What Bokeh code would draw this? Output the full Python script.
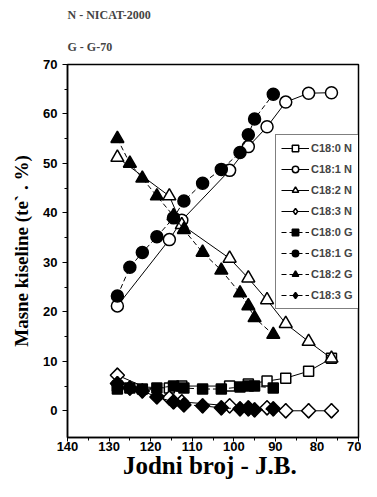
from bokeh.plotting import figure
from bokeh.models import Range1d, FixedTicker, Title, Legend, LegendItem
from bokeh.embed import file_html
from bokeh.resources import INLINE
import math

# N series (NICAT-2000)
xN = [128, 115.5, 112.5, 101, 96.5, 92, 87.5, 82, 76.5]
c180_N = [5.0, 4.6, 5.0, 5.0, 5.4, 6.0, 6.6, 8.0, 10.6]
c181_N = [21.2, 34.6, 38.5, 48.6, 53.4, 57.4, 62.4, 64.2, 64.3]
c182_N = [51.2, 43.4, 37.6, 30.8, 26.8, 22.4, 17.6, 14.0, 10.6]
c183_N = [7.2, 2.6, 1.8, 1.0, 0.6, 0.6, 0.0, 0.0, 0.0]

# G series (G-70)
xG = [128, 125, 122, 118.5, 114.5, 112, 107.5, 103, 98.5, 96.5, 95, 90.5]
c180_G = [4.4, 4.6, 4.4, 4.6, 5.0, 4.6, 4.4, 4.4, 4.8, 5.0, 5.0, 4.6]
c181_G = [23.2, 29.0, 32.0, 35.2, 39.0, 42.4, 46.0, 48.8, 52.2, 55.8, 59.0, 64.0]
c182_G = [55.0, 50.0, 47.0, 43.4, 39.4, 36.6, 32.0, 28.4, 23.8, 21.2, 18.8, 15.4]
c183_G = [5.5, 4.6, 4.0, 2.8, 1.8, 1.2, 1.0, 0.6, 0.4, 0.4, 0.2, 0.4]

series = [
    ("C18:0 N", xN, c180_N, "square", False),
    ("C18:1 N", xN, c181_N, "circle", False),
    ("C18:2 N", xN, c182_N, "triangle", False),
    ("C18:3 N", xN, c183_N, "diamond", False),
    ("C18:0 G", xG, c180_G, "square", True),
    ("C18:1 G", xG, c181_G, "circle", True),
    ("C18:2 G", xG, c182_G, "triangle", True),
    ("C18:3 G", xG, c183_G, "diamond", True),
]

x_ticks = [140, 130, 120, 110, 100, 90, 80, 70]
y_ticks = [0, 10, 20, 30, 40, 50, 60, 70]

p = figure(width=361, height=481, output_backend="svg", toolbar_location=None,
           x_range=Range1d(140, 70), y_range=Range1d(-5.4, 70),
           min_border_left=67, min_border_right=3, min_border_top=10, min_border_bottom=40)

p.outline_line_color = "black"
p.outline_line_width = 1.5
p.xgrid.visible = False
p.ygrid.visible = False
p.background_fill_color = "white"
p.border_fill_color = "white"

items = []
for name, xs, ys, marker, filled in series:
    dash = "5 3" if filled else "solid"
    ln = p.line(xs, ys, line_color="black", line_width=1, line_dash=dash)
    fill = "black" if filled else "white"
    if marker == "diamond":
        # narrow diamond used for the legend key; hidden under the wide diamonds
        key = p.scatter(xs, ys, marker="diamond", size=14,
                        line_color="black", line_width=1.5, fill_color=fill)
        p.scatter(xs, ys, marker="square", size=10, angle=math.pi / 4,
                  line_color="black", line_width=1.5, fill_color=fill)
        items.append(LegendItem(label=name, renderers=[ln, key]))
    else:
        size = {"square": 10, "circle": 12, "triangle": 13}[marker]
        sc = p.scatter(xs, ys, marker=marker, size=size, line_color="black",
                       line_width=1.5, fill_color=fill)
        items.append(LegendItem(label=name, renderers=[ln, sc]))

legend = Legend(items=items, location=(208, 128))
legend.label_text_font = "Liberation Sans"
legend.label_text_font_style = "bold"
legend.label_text_font_size = "11px"
legend.border_line_color = "black"
legend.border_line_width = 1
legend.glyph_width = 28
legend.glyph_height = 16
legend.spacing = 5
legend.padding = 5
legend.margin = 0
legend.label_standoff = 2
legend.background_fill_alpha = 1
p.add_layout(legend)

for ax in (p.xaxis[0], p.yaxis[0]):
    ax.major_label_text_font = "Liberation Sans"
    ax.major_label_text_font_style = "bold"
    ax.major_label_text_font_size = "13px"
    ax.major_label_text_color = "black"
    ax.axis_line_color = "black"
    ax.axis_line_width = 1.5
    ax.major_tick_line_color = "black"
    ax.minor_tick_line_color = "black"
    ax.major_tick_out = 5
    ax.major_tick_in = 0
    ax.minor_tick_out = 3
    ax.minor_tick_in = 0
    ax.axis_label_text_font = "Liberation Serif"
    ax.axis_label_text_font_style = "bold"
    ax.axis_label_text_color = "black"

p.xaxis[0].ticker = FixedTicker(ticks=x_ticks, minor_ticks=[135, 125, 115, 105, 95, 85, 75])
p.yaxis[0].ticker = FixedTicker(ticks=y_ticks, minor_ticks=[5, 15, 25, 35, 45, 55, 65])
p.xaxis[0].major_label_standoff = 0
p.xaxis[0].major_tick_out = 4
p.xaxis[0].axis_label = "Jodni broj -  J.B."
p.xaxis[0].axis_label_text_font_size = "25px"
p.xaxis[0].axis_label_standoff = -2
p.yaxis[0].axis_label = "Masne kiseline (te` . %)"
p.yaxis[0].axis_label_text_font_size = "19px"
p.yaxis[0].axis_label_standoff = 8

t2 = Title(text="G - G-70", align="left", text_font="Liberation Serif",
           text_font_style="bold", text_font_size="12px", offset=0, standoff=22)
t1 = Title(text="N - NICAT-2000", align="left", text_font="Liberation Serif",
           text_font_style="bold", text_font_size="12px", offset=0, standoff=10)
p.add_layout(t2, "above")
p.add_layout(t1, "above")

open("out.html", "w").write(file_html(p, INLINE))
